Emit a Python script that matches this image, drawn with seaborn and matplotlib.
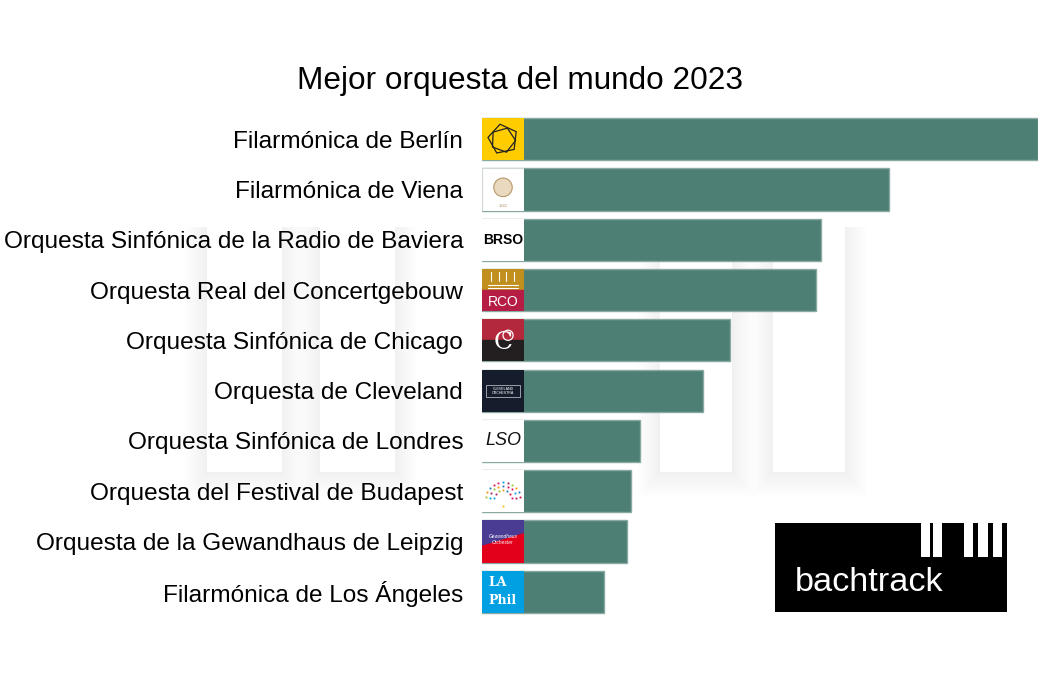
import matplotlib
matplotlib.use('Agg')
import math
import matplotlib.pyplot as plt
from matplotlib.patches import Rectangle, RegularPolygon, Circle, Polygon
import pandas as pd
import seaborn as sns

# Datos: puntuación relativa (Berlín = 100)
orquestas = ['Filarmónica de Berlín', 'Filarmónica de Viena',
             'Orquesta Sinfónica de la Radio de Baviera', 'Orquesta Real del Concertgebouw',
             'Orquesta Sinfónica de Chicago', 'Orquesta de Cleveland',
             'Orquesta Sinfónica de Londres', 'Orquesta del Festival de Budapest',
             'Orquesta de la Gewandhaus de Leipzig', 'Filarmónica de Los Ángeles']
puntos = [100, 73.2, 61.0, 60.1, 44.6, 39.7, 28.4, 26.8, 26.1, 21.9]
logos = ['berlin', 'viena', 'brso', 'rco', 'chicago', 'cleveland', 'lso', 'budapest', 'leipzig', 'laphil']

df = pd.DataFrame({'orquesta': orquestas, 'puntos': puntos})

sns.set_style('white')
plt.rcParams['font.family'] = ['Liberation Sans', 'DejaVu Sans']
plt.rcParams['text.color'] = 'black'

W, H = 1040, 680
fig = plt.figure(figsize=(W / 100, H / 100), dpi=100)

# fondo: teclas de piano difuminadas
bg = fig.add_axes([0, 0, 1, 1], zorder=0)
bg.set_xlim(0, W)
bg.set_ylim(H, 0)
bg.axis('off')
for x0, x1 in [(207, 282), (320, 395), (660, 732), (773, 845)]:
    for k in range(14, 0, -1):
        bg.add_patch(Rectangle((x0 - k * 1.6, 227), (x1 - x0) + k * 3.2, 245 + k * 1.8,
                               facecolor='#9a9a9a', edgecolor='none', alpha=0.005))
    bg.add_patch(Rectangle((x0, 227), x1 - x0, 245, facecolor='white', edgecolor='none'))

# logo bachtrack
bg.add_patch(Rectangle((775, 523), 232, 89, facecolor='black', edgecolor='none'))
for x0, x1 in [(921, 930), (933, 942), (964, 973), (978, 988), (993, 1002)]:
    bg.add_patch(Rectangle((x0, 523), x1 - x0, 34, facecolor='white', edgecolor='none'))
bg.text(795, 591, 'bachtrack', color='white', fontsize=24.7, va='baseline', ha='left')

# título
fig.text(520 / W, 1 - 89 / H, 'Mejor orquesta del mundo 2023', fontsize=22.7,
         ha='center', va='baseline', color='black')

ax = fig.add_axes([482 / W, 1 - 617 / H, 556 / W, 503 / H], zorder=1)
ax.patch.set_alpha(0)
sns.barplot(data=df, x='puntos', y='orquesta', orient='h', color='#4e7f75',
            saturation=1, width=0.84, edgecolor='#88aaa2', linewidth=1, ax=ax)
ax.set_xlim(0, max(puntos))
ax.set_ylim(len(orquestas) - 0.5, -0.5)
ax.set_xlabel('')
ax.set_ylabel('')
ax.set_xticks([])
ax.tick_params(axis='y', length=0, pad=13.5, labelsize=17.6, labelcolor='black')
sns.despine(ax=ax, left=True, bottom=True)


def draw_logo(lx, name):
    lx.set_xlim(0, 1)
    lx.set_ylim(0, 1)
    lx.axis('off')
    if name == 'berlin':
        lx.add_patch(Rectangle((0, 0), 1, 1, color='#ffcc00'))
        lx.add_patch(RegularPolygon((0.5, 0.5), 5, radius=0.36, orientation=0.2,
                                    fill=False, edgecolor='#222', lw=0.9))
        lx.add_patch(RegularPolygon((0.5, 0.48), 5, radius=0.3, orientation=0.9,
                                    fill=False, edgecolor='#222', lw=0.9))
    elif name == 'viena':
        lx.add_patch(Rectangle((0, 0), 1, 1, facecolor='white', edgecolor='#cfd8d5', lw=0.8))
        lx.add_patch(Circle((0.5, 0.55), 0.22, facecolor='#e9d9bf', edgecolor='#b8976a', lw=0.8))
        lx.text(0.5, 0.1, '1842', fontsize=3, color='#b8976a', ha='center', va='center')
    elif name == 'brso':
        lx.add_patch(Rectangle((0, 0), 1, 1, color='white'))
        lx.text(0.5, 0.5, 'BRSO', fontsize=10, color='black', ha='center', va='center',
                fontweight='bold', family=['Liberation Sans Narrow', 'Liberation Sans'])
    elif name == 'rco':
        lx.add_patch(Rectangle((0, 0.5), 1, 0.5, color='#c08f1d'))
        lx.add_patch(Rectangle((0, 0), 1, 0.5, color='#b51d45'))
        for xx in [0.22, 0.4, 0.58, 0.76]:
            lx.plot([xx, xx], [0.72, 0.92], color='white', lw=0.8)
        lx.plot([0.15, 0.85], [0.62, 0.62], color='white', lw=0.8)
        lx.plot([0.15, 0.85], [0.56, 0.56], color='white', lw=0.8)
        lx.text(0.5, 0.22, 'RCO', fontsize=10, color='white', ha='center', va='center',
                family=['Liberation Sans Narrow', 'Liberation Sans'])
    elif name == 'chicago':
        lx.add_patch(Rectangle((0, 0.5), 1, 0.5, color='#b3283a'))
        lx.add_patch(Rectangle((0, 0), 1, 0.5, color='#231f20'))
        lx.text(0.5, 0.45, 'C', fontsize=18, color='white', ha='center', va='center',
                family=['DejaVu Serif'])
        lx.add_patch(Circle((0.62, 0.62), 0.12, fill=False, edgecolor='white', lw=0.9))
    elif name == 'cleveland':
        lx.add_patch(Rectangle((0, 0), 1, 1, color='#151d2c'))
        lx.add_patch(Rectangle((0.1, 0.36), 0.8, 0.28, fill=False, edgecolor='#cfd3da', lw=0.5))
        lx.text(0.5, 0.5, 'CLEVELAND\nORCHESTRA', fontsize=2.6, color='white',
                ha='center', va='center', linespacing=1.1)
    elif name == 'lso':
        lx.add_patch(Rectangle((0, 0), 1, 1, color='white'))
        lx.text(0.5, 0.5, 'LSO', fontsize=13, color='#111', ha='center', va='center',
                style='italic')
    elif name == 'budapest':
        lx.add_patch(Rectangle((0, 0), 1, 1, color='white'))
        cols = ['#e4003a', '#1d71b8', '#f39200', '#95c11f', '#a3195b', '#009fe3', '#e6007e']
        n = 0
        for r, cnt in [(0.42, 11), (0.32, 9), (0.22, 7)]:
            for j in range(cnt):
                ang = math.pi * (0.05 + 0.9 * j / (cnt - 1))
                lx.plot(0.5 + r * math.cos(ang), 0.3 + r * math.sin(ang), 's', ms=1.3,
                        color=cols[n % len(cols)], mew=0)
                n += 1
        lx.plot(0.5, 0.15, 's', ms=1.3, color='#f6c000', mew=0)
    elif name == 'leipzig':
        lx.add_patch(Rectangle((0, 0), 1, 1, color='#e2001a'))
        lx.add_patch(Polygon([(0, 1), (1, 1), (1, 0.72), (0, 0.42)], color='#4a3b93'))
        lx.text(0.5, 0.55, 'Gewandhaus\nOrchester', fontsize=3.5, color='white',
                ha='center', va='center', style='italic')
    elif name == 'laphil':
        lx.add_patch(Rectangle((0, 0), 1, 1, color='#00a0e3'))
        lx.text(0.15, 0.72, 'LA', fontsize=9, color='white', ha='left', va='center',
                fontweight='bold', family=['DejaVu Serif'])
        lx.text(0.15, 0.3, 'Phil', fontsize=9, color='white', ha='left', va='center',
                fontweight='bold', family=['DejaVu Serif'])


# logos sobre el inicio de cada barra
for p, name in zip(ax.patches, logos):
    bb = p.get_window_extent()
    lx = fig.add_axes([bb.x0 / W, bb.y0 / H, 42 / W, bb.height / H], zorder=2)
    draw_logo(lx, name)

fig.savefig('out.png', dpi=100)
